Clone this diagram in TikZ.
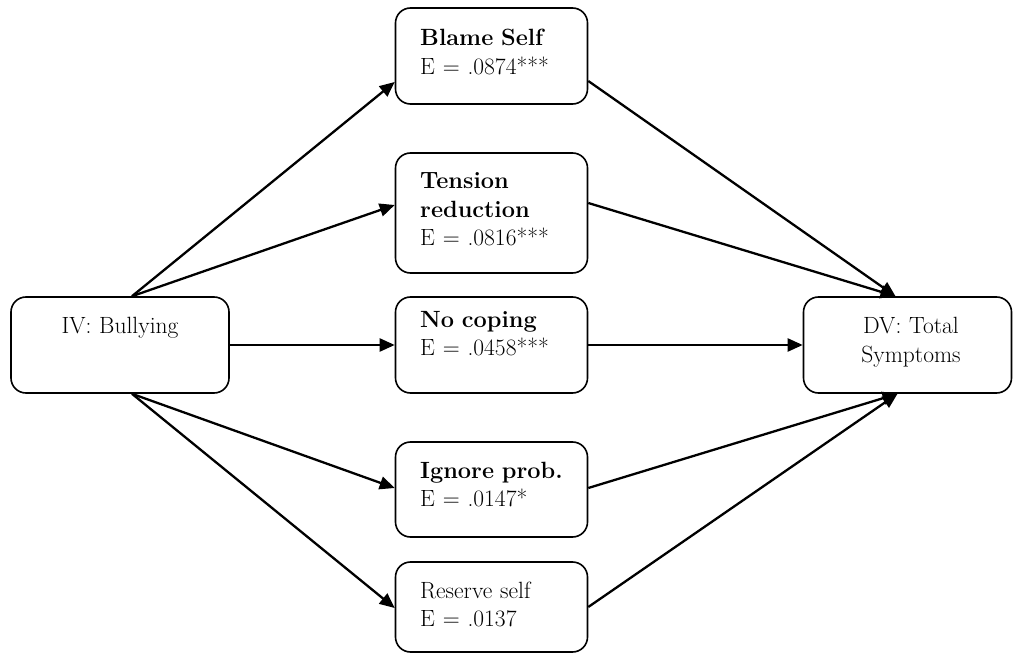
\documentclass[tikz,border=0pt]{standalone}
\usepackage{fontspec}
\setmainfont{Latin Modern Roman}
\usetikzlibrary{arrows.meta}
\begin{document}
\begin{tikzpicture}[x=1pt,y=-1pt,
  box/.style={draw,line width=1.6pt,rounded corners=15pt,inner sep=0pt},
  txt/.style={inner sep=0pt,anchor=base west,align=left,text width=170pt,
    font=\fontsize{23.5}{28.5}\selectfont},
  ctxt/.style={inner sep=0pt,anchor=base,align=center,text width=190pt,
    font=\fontsize{23.5}{28.5}\selectfont},
  path/.style={line width=2.3pt,-{Triangle[length=15pt,width=13pt]}}]
\useasboundingbox (0,0) rectangle (1018,655);

% boxes
\node[box,minimum width=218pt,minimum height=96pt] (iv) at (120,345) {};
\node[box,minimum width=208pt,minimum height=96pt] (dv) at (907.5,345) {};
\node[box,minimum width=192pt,minimum height=96pt] (blame) at (491.5,56) {};
\node[box,minimum width=192pt,minimum height=120pt] (tension) at (491.5,213) {};
\node[box,minimum width=192pt,minimum height=96pt] (nocope) at (491.5,345) {};
\node[box,minimum width=192pt,minimum height=95pt] (ignore) at (491.5,489.5) {};
\node[box,minimum width=192pt,minimum height=90pt] (reserve) at (491.5,607) {};

% labels
\node[ctxt] (ivt) at (120,334) {IV: Bullying};
\node[ctxt] (dvt) at (911,334) {DV: Total\\Symptoms};
\node[txt] (blamet) at (420,46) {\textbf{Blame Self}\\E = .0874***};
\node[txt] (tensiont) at (420,189) {\textbf{Tension}\\\textbf{reduction}\\E = .0816***};
\node[txt] (nocopet) at (420,327) {\textbf{No coping}\\E = .0458***};
\node[txt] (ignoret) at (420,478) {\textbf{Ignore prob.}\\E = .0147*};
\node[txt] (reservet) at (420,598) {Reserve self\\E = .0137};

% anchor points on the outer boxes
\coordinate (ivtop) at ([xshift=12pt]iv.north);
\coordinate (ivbot) at ([xshift=12pt]iv.south);
\coordinate (dvtop) at ([xshift=-12pt]dv.north);
\coordinate (dvbot) at ([xshift=-10pt]dv.south);

% paths from the predictor to the mediators
\draw[path] (ivtop) -- (blame.west |- 0,82);
\draw[path] (ivtop) -- (tension.west |- 0,205);
\draw[path] (iv.east) -- (nocope.west);
\draw[path] (ivbot) -- (ignore.west |- 0,488);
\draw[path] (ivbot) -- (reserve.west |- 0,608);

% paths from the mediators to the outcome
\draw[path] (blame.east |- 0,81) -- (dvtop);
\draw[path] (tension.east |- 0,203) -- (dvtop);
\draw[path] (nocope.east) -- (dv.west);
\draw[path] (ignore.east |- 0,488) -- (dvbot);
\draw[path] (reserve.east |- 0,607) -- (dvbot);
\end{tikzpicture}
\end{document}
